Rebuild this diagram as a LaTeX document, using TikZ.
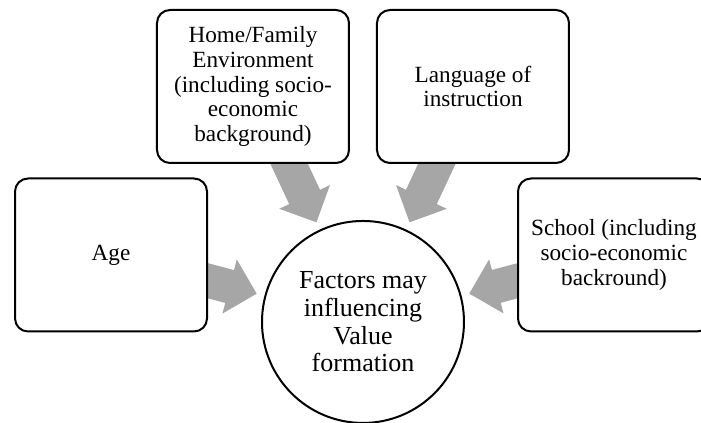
\documentclass[tikz,border=0pt]{standalone}
\usepackage{fontspec}
\setmainfont{Liberation Serif}
\usetikzlibrary{calc,backgrounds}
\definecolor{arrowgrey}{RGB}{166,166,166}
\tikzset{
	factor/.style={draw, line width=1pt, rounded corners=6.5pt, fill=white,
				   minimum width=96pt, minimum height=76.5pt, inner sep=2pt,
				   align=center, font=\fontsize{11.6pt}{12.4pt}\selectfont},
	centre/.style={draw, circle, line width=1pt, fill=white, minimum size=101pt,
				   inner sep=0pt, align=center, font=\fontsize{13pt}{13.8pt}\selectfont},
	influence/.style={fill=arrowgrey},
}

\begin{document}
\begin{tikzpicture}

\useasboundingbox (0,0) rectangle (12.319,7.433);

\node[centre](value) at (6.379,1.775) {Factors may\\influencing\\Value\\formation};
\node[factor](home) at (4.446,5.913) {Home/Family\\Environment\\(including socio-\\economic\\background)};
\node[factor](lang) at (8.312,5.913) {Language of\\instruction};
\node[factor](age) at (1.951,2.952) {Age};
\node[factor](school) at (10.790,2.952) {School (including\\socio-economic\\backround)};

% block arrows, drawn behind the boxes so they start at the box edge
\begin{scope}[on background layer]
\foreach \src in {home,lang,age,school}{
	\coordinate (tip) at ($(value)!55pt!(\src)$);
	\coordinate (back) at ($(value)!69pt!(\src)$);
	\path[influence] ($(\src)!8.5pt!90:(value)$) -- ($(back)!8.5pt!90:(value)$)
		-- ($(back)!14pt!90:(value)$) -- (tip) -- ($(back)!14pt!-90:(value)$)
		-- ($(back)!8.5pt!-90:(value)$) -- ($(\src)!8.5pt!-90:(value)$) -- cycle;
}
\end{scope}

\end{tikzpicture}
\end{document}
